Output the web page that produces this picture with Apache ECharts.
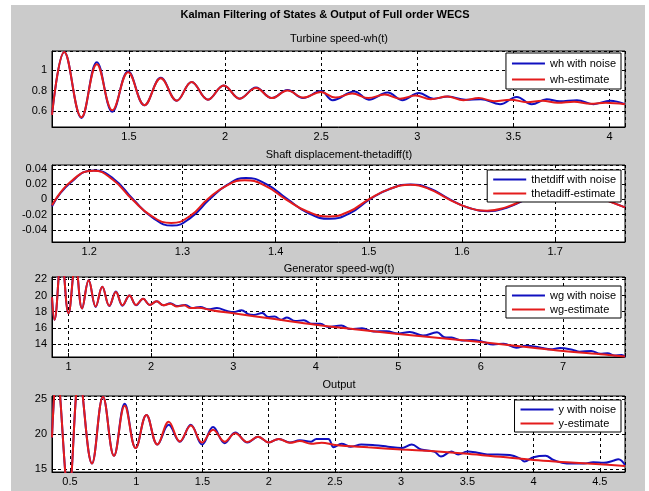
<!DOCTYPE html>
<html>
<head>
<meta charset="utf-8">
<title>Kalman Filtering of States & Output of Full order WECS</title>
<script src="https://cdn.jsdelivr.net/npm/echarts@6/dist/echarts.min.js"></script>
<style>
html, body { margin: 0; padding: 0; background: #fff; }
#wrap { position: relative; width: 649px; height: 491px; }
#fig { position: absolute; left: 11px; top: 5px; width: 634px; height: 486px; background: #cbcbcb; }
#main { position: absolute; left: 0; top: 0; width: 649px; height: 491px; }
</style>
</head>
<body>
<div id="wrap"><div id="fig"></div><div id="main"></div></div>
<script>
// ---- data: [time, value] ----

// Turbine speed wh(t)
const whNoise = [[1.10,0.56],[1.164,1.18],[1.253,0.53],[1.333,1.08],[1.414,0.59],[1.496,0.99],[1.581,0.655],[1.666,0.925],
  [1.749,0.70],[1.826,0.885],[1.911,0.71],[1.993,0.85],[2.076,0.72],[2.161,0.83],[2.243,0.725],[2.325,0.805],[2.406,0.725],
  [2.498,0.795],[2.56,0.705],[2.672,0.79],[2.748,0.71],[2.846,0.78],[2.921,0.705],[3.009,0.775],[3.084,0.72],[3.16,0.74],
  [3.25,0.71],[3.33,0.715],[3.43,0.665],[3.517,0.737],[3.595,0.665],[3.673,0.714],[3.74,0.695],[3.83,0.705],[3.916,0.665],
  [4.003,0.70],[4.08,0.665]];
const whEst = [[1.10,0.56],[1.164,1.18],[1.253,0.535],[1.333,1.06],[1.414,0.605],[1.496,0.98],[1.581,0.655],[1.666,0.92],
  [1.749,0.70],[1.826,0.885],[1.911,0.71],[1.993,0.85],[2.076,0.72],[2.161,0.825],[2.243,0.725],[2.325,0.80],[2.406,0.73],
  [2.498,0.785],[2.574,0.73],[2.661,0.77],[2.745,0.725],[2.83,0.76],[2.91,0.72],[2.99,0.75],[3.07,0.715],[3.155,0.74],
  [3.24,0.705],[3.32,0.725],[3.40,0.695],[3.485,0.71],[3.57,0.685],[3.65,0.70],[3.73,0.68],[3.815,0.69],[3.90,0.67],
  [3.98,0.68],[4.08,0.665]];

// Shaft displacement thetadiff(t)
const thNoise = [[1.16,-0.009],[1.18,0.022],[1.205,0.0378],[1.226,0.027],[1.247,0],[1.268,-0.024],[1.289,-0.0345],
  [1.309,-0.024],[1.329,0],[1.348,0.019],[1.368,0.028],[1.39,0.02],[1.413,0],[1.435,-0.018],[1.458,-0.0255],
  [1.48,-0.018],[1.501,0],[1.523,0.0138],[1.545,0.0195],[1.566,0.0138],[1.587,0],[1.607,-0.011],[1.628,-0.0158],
  [1.648,-0.011],[1.669,0],[1.69,0.0102],[1.711,0.0145],[1.732,0.0102],[1.753,0],[1.775,-0.0105]];
const thEst = [[1.16,-0.008],[1.18,0.023],[1.2045,0.0375],[1.225,0.026],[1.246,0],[1.267,-0.022],[1.288,-0.031],
  [1.308,-0.022],[1.327,0],[1.347,0.0177],[1.367,0.025],[1.389,0.0177],[1.411,0],[1.434,-0.016],[1.457,-0.0225],
  [1.479,-0.016],[1.50,0],[1.522,0.0134],[1.5445,0.019],[1.565,0.0134],[1.586,0],[1.606,-0.0106],[1.627,-0.015],
  [1.647,-0.0106],[1.668,0],[1.689,0.0099],[1.71,0.014],[1.731,0.0099],[1.752,0],[1.775,-0.0105]];

// Generator speed wg(t)
const wgNoise = [[0.80,19.8],[0.83,17.0],[0.915,25.0],[1.0,17.8],[1.085,24.0],[1.165,18.4],[1.245,21.9],[1.33,18.6],
  [1.41,21.1],[1.495,18.7],[1.575,20.5],[1.655,18.75],[1.74,20.0],[1.82,18.8],[1.905,19.6],[1.985,18.85],[2.07,19.3],
  [2.15,18.8],[2.235,19.05],[2.315,18.7],[2.418,18.85],[2.5,18.45],[2.6,18.6],[2.695,18.3],[2.8,18.45],[2.922,18.1],
  [3.0,17.95],[3.099,18.2],[3.18,17.7],[3.25,17.6],[3.35,17.85],[3.42,17.35],[3.5,17.4],[3.58,17.0],[3.65,17.3],
  [3.75,16.85],[3.855,16.95],[3.95,16.5],[4.057,16.5],[4.15,16.1],[4.31,16.3],[4.42,15.85],[4.56,15.95],[4.7,15.55],
  [4.86,15.6],[5.0,15.3],[5.14,15.5],[5.3,15.05],[5.47,15.45],[5.56,14.85],[5.646,14.8],[5.77,14.45],[5.9,14.5],
  [6.02,14.3],[6.15,13.95],[6.277,14.05],[6.43,13.55],[6.55,13.8],[6.73,13.55],[6.85,13.35],[6.96,13.5],[7.11,13.3],
  [7.2,13.05],[7.34,13.15],[7.45,12.8],[7.54,12.85],[7.62,12.6],[7.71,12.65],[7.75,12.4]];
const wgEst = [[0.80,19.8],[0.83,17.0],[0.915,25.0],[1.0,17.8],[1.085,24.0],[1.165,18.4],[1.245,21.9],[1.33,18.65],
  [1.41,21.1],[1.495,18.75],[1.575,20.45],[1.655,18.8],[1.74,20.0],[1.82,18.85],[1.905,19.6],[1.985,18.85],[2.07,19.3],
  [2.15,18.8],[2.235,19.0],[2.315,18.65],[2.40,18.8],[2.48,18.45],[2.565,18.5],[2.75,18.15],[3.0,17.8],[3.5,17.1],
  [4.0,16.4],[4.5,15.8],[5.0,15.25],[5.5,14.75],[6.0,14.25],[6.5,13.7],[7.0,13.15],[7.5,12.7],[7.75,12.45]];

// Output y(t)
const yNoise = [[0.364,19.5],[0.40,28.5],[0.49,11.5],[0.57,28.0],[0.666,15.8],[0.749,25.3],[0.832,16.9],[0.913,24.3],
  [0.996,18.0],[1.077,22.7],[1.16,18.5],[1.245,21.3],[1.329,18.9],[1.412,21.3],[1.497,18.5],[1.58,21.0],[1.668,18.7],
  [1.747,20.2],[1.84,18.8],[1.92,19.6],[2.0,18.8],[2.076,19.3],[2.16,18.8],[2.235,19.1],[2.32,18.9],[2.36,19.3],
  [2.45,19.3],[2.49,18.1],[2.55,18.6],[2.62,18.2],[2.7,18.5],[2.8,18.4],[2.9,18.2],[3.0,18.0],[3.08,18.5],[3.15,17.8],
  [3.25,17.5],[3.3,16.8],[3.38,17.5],[3.43,17.1],[3.5,17.5],[3.56,17.4],[3.65,17.1],[3.73,17.1],[3.82,17.0],[3.9,16.5],
  [3.93,16.1],[4.0,16.7],[4.09,16.9],[4.15,16.3],[4.25,15.8],[4.38,15.8],[4.45,16.0],[4.53,15.9],[4.6,16.2],[4.64,16.4],
  [4.69,15.6]];
const yEst = [[0.364,19.5],[0.40,28.5],[0.49,11.5],[0.57,28.0],[0.666,15.8],[0.749,25.3],[0.832,16.9],[0.913,24.0],
  [0.996,18.0],[1.077,22.7],[1.16,18.5],[1.245,21.75],[1.329,18.95],[1.412,21.2],[1.497,18.8],[1.58,20.6],[1.668,18.9],
  [1.747,20.1],[1.84,18.85],[1.92,19.6],[2.0,18.8],[2.076,19.3],[2.16,18.75],[2.235,19.0],[2.32,18.6],[2.40,18.75],
  [2.5,18.45],[2.75,18.1],[3.0,17.8],[3.25,17.55],[3.5,17.2],[3.75,16.75],[4.0,16.3],[4.25,16.0],[4.5,15.7],[4.69,15.45]];

const mainTitle = 'Kalman Filtering of States & Output of Full order WECS';
const subTitles = ['Turbine speed-wh(t)', 'Shaft displacement-thetadiff(t)', 'Generator speed-wg(t)', 'Output'];
const legendNames = [
  ['wh with noise', 'wh-estimate'],
  ['thetdiff with noise', 'thetadiff-estimate'],
  ['wg with noise', 'wg-estimate'],
  ['y with noise', 'y-estimate']
];
// [xmin, xmax, xstep, ymin, ymax, ystep]
const axisRanges = [
  [1.10, 4.08, 0.5, 0.44, 1.19, 0.2],
  [1.16, 1.775, 0.1, -0.056, 0.045, 0.02],
  [0.80, 7.75, 1, 12.4, 22.3, 2],
  [0.364, 4.69, 0.5, 14.6, 25.4, 5]
];

const FONT = '"Liberation Sans", Arial, Helvetica, sans-serif';
const BLUE = '#1010c0';
const RED = '#e41c1c';

// plot boxes in pixels
const boxes = [
  { left: 52, top: 51, width: 573, height: 76 },
  { left: 52, top: 165, width: 573, height: 77 },
  { left: 52, top: 277, width: 573, height: 80 },
  { left: 52, top: 396, width: 573, height: 76 }
];
const titleY = [39, 155, 269, 385];
const legendTop = [53, 170, 286, 400];

function fmt(step) {
  return function (v) {
    const k = v / step;
    if (Math.abs(k - Math.round(k)) > 1e-6) return '';
    return String(Math.round(v * 1e6) / 1e6);
  };
}

function axis(grid, min, max, step, isX) {
  return {
    type: 'value',
    gridIndex: grid,
    min: min, max: max,
    minInterval: step, maxInterval: step,
    axisLine: { show: true, onZero: false, lineStyle: { color: '#000', width: 1 } },
    axisTick: { show: true, inside: true, length: 4, lineStyle: { color: '#000' } },
    axisLabel: { color: '#000', fontSize: 11, fontFamily: FONT, margin: isX ? 4 : 5, formatter: fmt(step) },
    splitLine: { show: true, lineStyle: { color: '#000', width: 1, type: [3, 3] } }
  };
}

const grids = [], xAxes = [], yAxes = [], legends = [], series = [];
const seriesData = [[whNoise, whEst], [thNoise, thEst], [wgNoise, wgEst], [yNoise, yEst]];

boxes.forEach(function (b, i) {
  grids.push(Object.assign({ show: true, backgroundColor: '#fff', borderColor: '#000', borderWidth: 1 }, b));
  const r = axisRanges[i];
  xAxes.push(axis(i, r[0], r[1], r[2], true));
  yAxes.push(axis(i, r[3], r[4], r[5], false));
  legends.push({
    data: legendNames[i],
    orient: 'vertical',
    right: 28,
    top: legendTop[i],
    icon: 'rect',
    itemWidth: 33,
    itemHeight: 2,
    itemGap: i === 0 ? 3 : 1,
    padding: i === 0 ? [4, 5, 3, 6] : [3, 5, 2, 6],
    backgroundColor: '#fff',
    borderColor: '#000',
    borderWidth: 1,
    borderRadius: 0,
    selectedMode: false,
    textStyle: { color: '#000', fontSize: 11, fontFamily: FONT, lineHeight: 13 }
  });
  [BLUE, RED].forEach(function (c, j) {
    series.push({
      name: legendNames[i][j],
      type: 'line',
      xAxisIndex: i,
      yAxisIndex: i,
      data: seriesData[i][j],
      color: c,
      symbol: 'none',
      showSymbol: false,
      smooth: i === 1 ? 0.5 : 0.4,
      clip: true,
      lineStyle: { color: c, width: 2 }
    });
  });
});

const texts = [{
  type: 'text', x: 325, y: 15,
  style: { text: mainTitle, fill: '#000', font: 'bold 11px ' + FONT, textAlign: 'center', textVerticalAlign: 'middle' }
}];
subTitles.forEach(function (t, i) {
  texts.push({
    type: 'text', x: 339, y: titleY[i],
    style: { text: t, fill: '#000', font: '11px ' + FONT, textAlign: 'center', textVerticalAlign: 'middle' }
  });
});

const chart = echarts.init(document.getElementById('main'), null, { renderer: 'canvas' });
chart.setOption({
  backgroundColor: 'transparent',
  animation: false,
  graphic: texts,
  grid: grids,
  xAxis: xAxes,
  yAxis: yAxes,
  legend: legends,
  series: series
});
</script>
</body>
</html>
